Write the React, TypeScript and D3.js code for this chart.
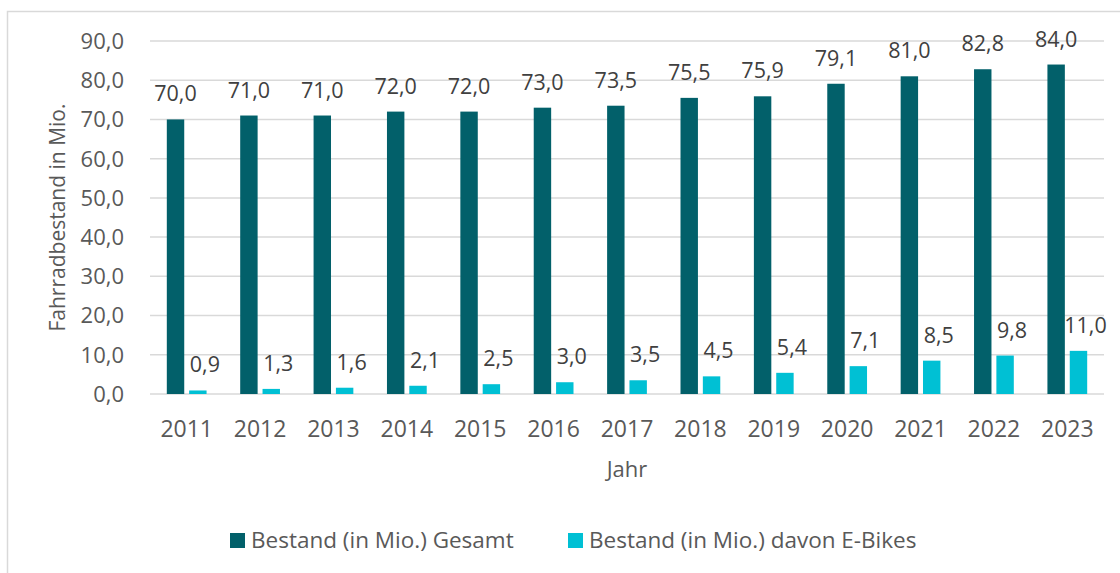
import React from "react";
import * as d3 from "d3";

const years = ["2011","2012","2013","2014","2015","2016","2017","2018","2019","2020","2021","2022","2023"];
const gesamt = [70.0, 71.0, 71.0, 72.0, 72.0, 73.0, 73.5, 75.5, 75.9, 79.1, 81.0, 82.8, 84.0];
const ebikes = [0.9, 1.3, 1.6, 2.1, 2.5, 3.0, 3.5, 4.5, 5.4, 7.1, 8.5, 9.8, 11.0];
const yTicks = [0, 10, 20, 30, 40, 50, 60, 70, 80, 90];
const seriesNames = ["Bestand (in Mio.) Gesamt", "Bestand (in Mio.) davon E-Bikes"];
const colors = ["#02606A", "#00C0D4"];

const W = 1120, H = 573;
const plotL = 150, plotR = 1104, plotT = 41, plotB = 394;
const font = "'Open Sans', 'Noto Sans', sans-serif";
const textColor = "#595959";

const fmt = (v: number) => v.toFixed(1).replace(".", ",");

export default function App() {
  const x = d3.scaleBand<string>().domain(years).range([plotL, plotR]).padding(0);
  const y = d3.scaleLinear().domain([0, 90]).range([plotB, plotT]);
  const sub = d3.scaleBand<number>().domain([0, 1]).range([-21, 21]).paddingInner(0.22).paddingOuter(0.05);
  const bw = sub.bandwidth();
  const series = [gesamt, ebikes];

  return (
    <div style={{ position: "absolute", left: 0, top: 0 }}>
      <svg width={W} height={H} style={{ display: "block", background: "#fff" }}>
        <path d={`M7.5,${H + 5}V11.5H${W + 5}`} fill="none" stroke="#d9d9d9" strokeWidth={1.5} />
        {yTicks.map((t) => (
          <g key={t}>
            <line x1={plotL} x2={plotR} y1={y(t)} y2={y(t)} stroke="#d9d9d9" strokeWidth={1.5} />
            <text x={124} y={y(t)} dy="0.36em" textAnchor="end" fontFamily={font} fontSize={22} fill={textColor}>
              {fmt(t)}
            </text>
          </g>
        ))}
        {years.map((yr, i) => {
          const c = (x(yr) as number) + x.bandwidth() / 2;
          return (
            <g key={yr}>
              {series.map((s, k) => {
                const bx = c + (sub(k) as number);
                const top = y(s[i]);
                return (
                  <g key={k}>
                    <rect x={bx} y={top} width={bw} height={plotB - top} fill={colors[k]} />
                    <text
                      x={bx + bw / 2 + (k === 1 ? 7 : 0)}
                      y={top - 18}
                      textAnchor="middle"
                      fontFamily={font}
                      fontSize={21.5}
                      fill="#404040"
                    >
                      {fmt(s[i])}
                    </text>
                  </g>
                );
              })}
              <text x={c} y={437} textAnchor="middle" fontFamily={font} fontSize={23} fill={textColor}>
                {yr}
              </text>
            </g>
          );
        })}
        <text x={(plotL + plotR) / 2} y={477} textAnchor="middle" fontFamily={font} fontSize={22} fill={textColor}>
          Jahr
        </text>
        <text
          transform={`translate(58,${(plotT + plotB) / 2}) rotate(-90)`}
          textAnchor="middle"
          dy="0.35em"
          fontFamily={font}
          fontSize={21}
          fill={textColor}
        >
          Fahrradbestand in Mio.
        </text>
        {seriesNames.map((n, k) => {
          const lx = k === 0 ? 230 : 568;
          return (
            <g key={n}>
              <rect x={lx} y={533} width={15} height={15} fill={colors[k]} />
              <text x={lx + 21} y={548} fontFamily={font} fontSize={22.5} fill={textColor}>
                {n}
              </text>
            </g>
          );
        })}
      </svg>
    </div>
  );
}
